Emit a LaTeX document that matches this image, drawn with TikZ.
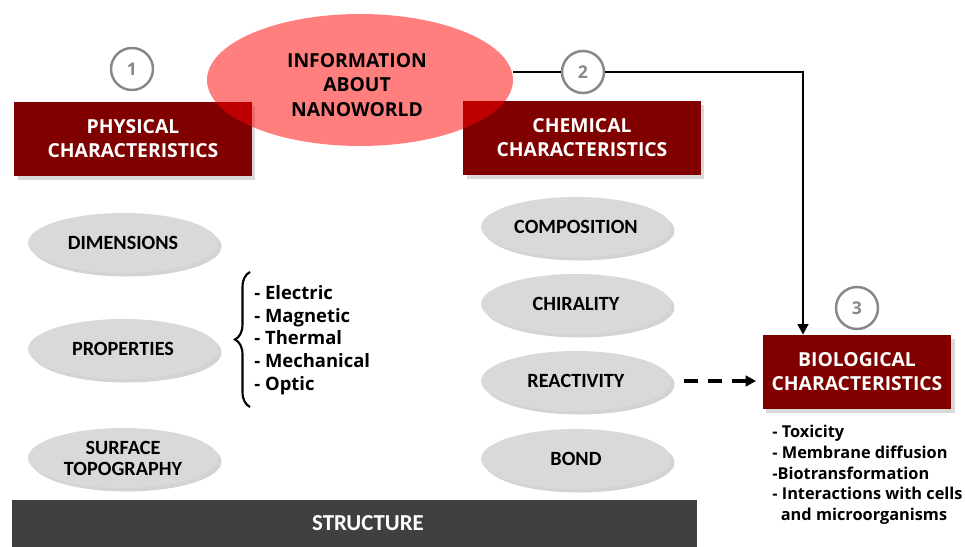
\documentclass[tikz,border=0pt]{standalone}
\usepackage{fontspec}
\setmainfont{Open Sans}
\newfontfamily\calib{Carlito}
\usetikzlibrary{positioning, arrows.meta, shapes.geometric, calc, shadows, decorations.pathreplacing}
\definecolor{boxRed}{RGB}{128,0,0}
\definecolor{ovalGray}{RGB}{217,217,217}
\definecolor{barGray}{RGB}{64,64,64}
\definecolor{numGray}{HTML}{888888}

\begin{document}
\begin{tikzpicture}[x=0.02cm, y=-0.02cm,
  charbox/.style={fill=boxRed, text=white, align=center, inner sep=0pt,
                  font=\bfseries\fontsize{11}{13.6}\selectfont,
                  drop shadow={opacity=0.3, shadow xshift=2pt, shadow yshift=-2pt}},
  oval/.style={ellipse, fill=ovalGray, inner sep=0pt, align=center,
               minimum width=3.8cm, minimum height=1.2cm,
               font=\calib\bfseries\fontsize{11.5}{12}\selectfont,
               drop shadow={opacity=0.35, shadow xshift=2pt, shadow yshift=-2pt}},
  num/.style={circle, draw=numGray, line width=1.4pt, fill=white,
              minimum size=0.84cm, inner sep=0pt, text=numGray,
              font=\bfseries\fontsize{10}{12}\selectfont},
  listtxt/.style={align=left, inner sep=0pt, font=\bfseries\fontsize{10.5}{12.9}\selectfont},
  link/.style={line width=1.4pt},
]
  \useasboundingbox (0,0) rectangle (965,547);

  % headline boxes
  \node[charbox, minimum width=4.76cm, minimum height=1.48cm] (phys) at (133,139)
    {PHYSICAL\\CHARACTERISTICS};
  \node[charbox, minimum width=4.76cm, minimum height=1.48cm] (chem) at (582,138)
    {CHEMICAL\\CHARACTERISTICS};
  \node[charbox, minimum width=3.78cm, minimum height=1.48cm] (bio) at (857,372)
    {BIOLOGICAL\\CHARACTERISTICS};

  \node[ellipse, fill=red, fill opacity=0.5, inner sep=0pt,
        minimum width=6.12cm, minimum height=2.64cm] (info) at (360,80) {};
  \node[align=center, inner sep=0pt, font=\bfseries\fontsize{11}{13.8}\selectfont]
    (infotxt) at (357,85) {INFORMATION\\ABOUT\\NANOWORLD};

  \node[num] (n1) at (132,69) {1};
  \node[num] (n2) at (583,72) {2};
  \node[num] (n3) at (857,308) {3};

  % physical side
  \node[oval] (dim) at (123,243) {DIMENSIONS};
  \node[oval] (prop) at (123,349) {PROPERTIES};
  \node[oval] (surf) at (123,458) {SURFACE\\TOPOGRAPHY};

  \coordinate (brtop) at (250,272);
  \coordinate (brbot) at (250,407);
  \draw[line width=1.2pt, decorate, decoration={brace, amplitude=0.3cm}] (brbot) -- (brtop);
  \node[listtxt, anchor=west] (plist) at (254,340)
    {- Electric\\- Magnetic\\- Thermal\\- Mechanical\\- Optic};

  % chemical side
  \node[oval] (comp) at (576,227) {COMPOSITION};
  \node[oval] (chir) at (576,304) {CHIRALITY};
  \node[oval] (reac) at (576,381) {REACTIVITY};
  \node[oval] (bond) at (576,459) {BOND};

  \node[listtxt, anchor=north west, font=\bfseries\fontsize{9.3}{11.8}\selectfont] (blist) at (772,425)
    {- Toxicity\\- Membrane diffusion\\-Biotransformation\\- Interactions with cells\\\ \ and microorganisms};

  \node[fill=barGray, text=white, minimum width=13.7cm, minimum height=0.94cm, inner sep=0pt,
        font=\calib\bfseries\fontsize{13}{14}\selectfont] (struct) at (354.5,523.5)
    {\hspace*{0.54cm}STRUCTURE};

  % connectors
  \coordinate (turn) at (803,72);
  \draw[link] (n2.west -| info.east) -- (n2.west);
  \draw[link, -{Triangle[length=6pt, width=6pt]}] (n2.east) -- (turn) -- (turn |- bio.north);
  \draw[line width=2pt, dash pattern=on 8pt off 5.5pt, shorten <=0.26cm, shorten >=0.12cm,
        -{Triangle[length=6pt, width=6pt]}] (reac.east) -- (reac.east -| bio.west);
\end{tikzpicture}
\end{document}
